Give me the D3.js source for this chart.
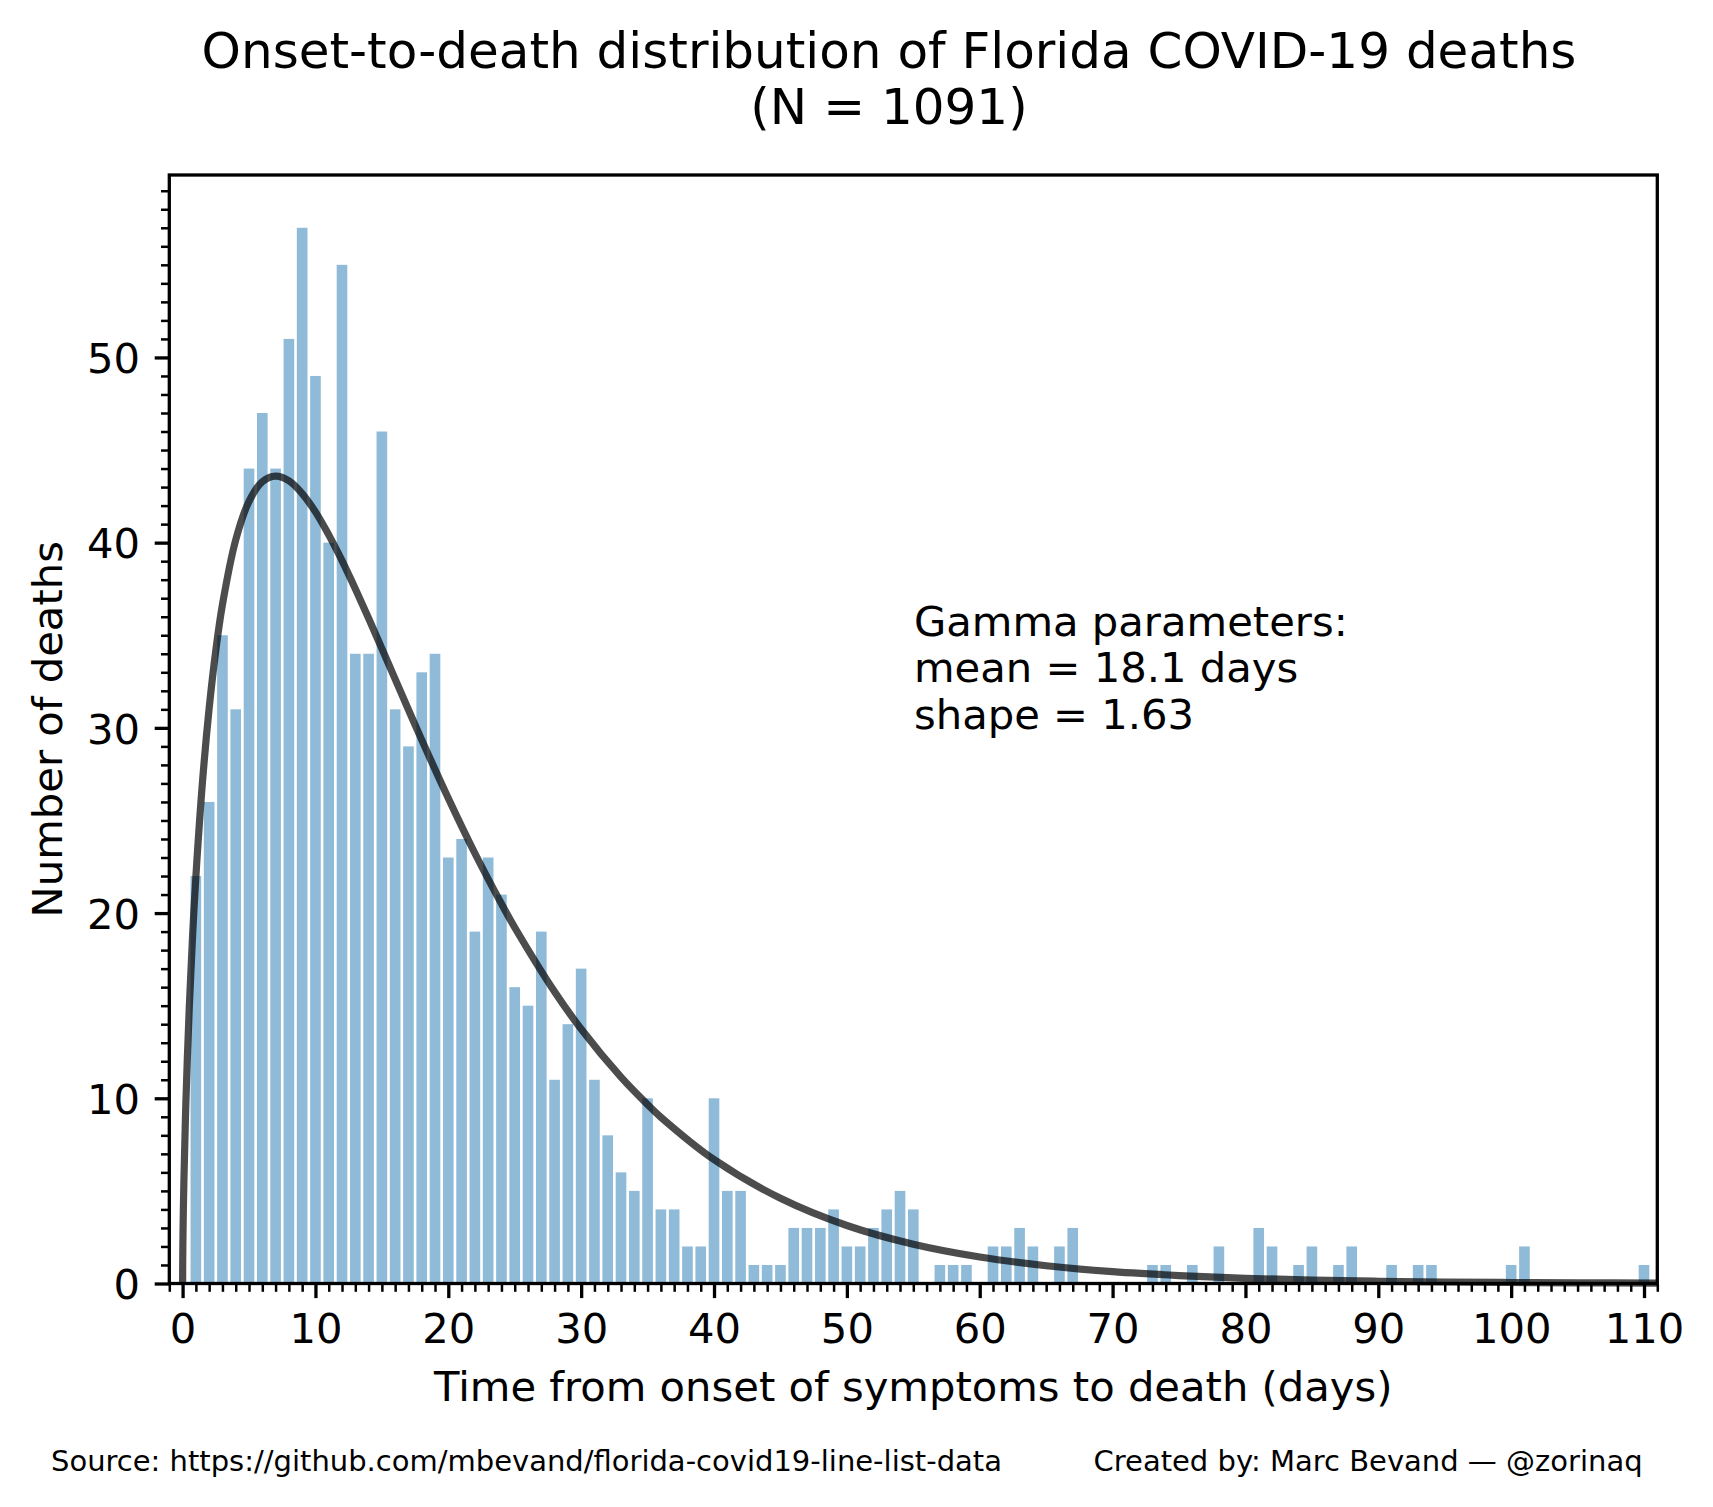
<!DOCTYPE html>
<html>
<head>
<meta charset="utf-8">
<script src="https://cdn.jsdelivr.net/npm/d3@7"></script>
<style>
  body { margin: 0; background: #ffffff; }
  svg { display: block; font-family: "DejaVu Sans", sans-serif; }
</style>
</head>
<body>
<svg id="chart" width="1713" height="1507"></svg>
<script>
// ---- Data ----
const days = d3.range(1, 111);
const deaths = [
  22, 26, 35, 31, 44, 47, 44, 51, 57, 49,
  40, 55, 34, 34, 46, 31, 29, 33, 34, 23,
  24, 19, 23, 21, 16, 15, 19, 11, 14, 17,
  11, 8, 6, 5, 10, 4, 4, 2, 2, 10,
  5, 5, 1, 1, 1, 3, 3, 3, 4, 2,
  2, 3, 4, 5, 4, 0, 1, 1, 1, 0,
  2, 2, 3, 2, 0, 2, 3, 0, 0, 0,
  0, 0, 1, 1, 0, 1, 0, 2, 0, 0,
  3, 2, 0, 1, 2, 0, 1, 2, 0, 0,
  1, 0, 1, 1, 0, 0, 0, 0, 0, 1,
  2, 0, 0, 0, 0, 0, 0, 0, 0, 1
];
// fitted gamma curve (expected deaths per day), sampled points
const curveDays = [0, 0.02, 0.05, 0.1, 0.25, 0.5, 0.75, 1, 1.5, 2, 2.5, 3, 4, 5, 6, 7, 8, 9, 10, 11, 12, 13, 14, 15, 16, 18, 20, 22, 24, 25, 28, 30, 33, 35, 36, 40, 45, 50, 55, 60, 65, 70, 75, 80, 85, 90, 95, 100, 105, 111];
const curveDeaths = [0, 2.04, 3.62, 5.58, 9.81, 14.85, 18.74, 21.96, 27.10, 31.06, 34.18, 36.65, 40.15, 42.23, 43.29, 43.59, 43.34, 42.65, 41.66, 40.42, 39.03, 37.51, 35.92, 34.28, 32.63, 29.35, 26.20, 23.23, 20.50, 19.22, 15.75, 13.74, 11.14, 9.66, 8.98, 6.69, 4.60, 3.13, 2.12, 1.43, 0.96, 0.64, 0.43, 0.28, 0.19, 0.12, 0.08, 0.054, 0.035, 0.021];
const xTickValues = [0, 10, 20, 30, 40, 50, 60, 70, 80, 90, 100, 110];
const yTickValues = [0, 10, 20, 30, 40, 50];
const titleLines = ["Onset-to-death distribution of Florida COVID-19 deaths", "(N = 1091)"];
const annotationLines = ["Gamma parameters:", "mean = 18.1 days", "shape = 1.63"];
const xLabel = "Time from onset of symptoms to death (days)";
const yLabel = "Number of deaths";
const sourceText = "Source: https://github.com/mbevand/florida-covid19-line-list-data";
const creditText = "Created by: Marc Bevand \u2014 @zorinaq";

// ---- Layout ----
const svg = d3.select("#chart");
const L = 169.3, R = 1657.3, T = 175, B = 1283.5;
const x = d3.scaleLinear().domain([-1, 111]).range([L, R]);
const y = d3.scaleLinear().domain([0, 59.85]).range([B, T]);

const tickFont = 41.7;
const barColor = "rgb(143,187,217)";

// Bars
const barData = days.map((d, i) => ({ day: d, value: deaths[i] })).filter(d => d.value > 0);
svg.append("g").selectAll("rect").data(barData).join("rect")
  .attr("x", d => x(d.day - 0.4))
  .attr("width", d => x(d.day + 0.4) - x(d.day - 0.4))
  .attr("y", d => y(d.value))
  .attr("height", d => y(0) - y(d.value))
  .attr("fill", barColor);

// Curve
const curvePts = curveDays.map((d, i) => [d, curveDeaths[i]]);
svg.append("path")
  .datum(curvePts)
  .attr("d", d3.line().x(d => x(d[0])).y(d => y(d[1])).curve(d3.curveCatmullRom.alpha(0.5)))
  .attr("fill", "none")
  .attr("stroke", "#000")
  .attr("stroke-opacity", 0.7)
  .attr("stroke-width", 7.2)
  .attr("stroke-linejoin", "round");

// Axes (using d3 axes for ticks)
const xMinor = d3.range(-1, 112).filter(v => v % 10 !== 0);
const yMinor = d3.range(0, 60).filter(v => v % 10 !== 0);

const xAxisMajor = svg.append("g").attr("transform", `translate(0,${B})`)
  .call(d3.axisBottom(x).tickValues(xTickValues).tickSize(14.6).tickPadding(14.6).tickFormat(d3.format("d")));
const xAxisMinor = svg.append("g").attr("transform", `translate(0,${B})`)
  .call(d3.axisBottom(x).tickValues(xMinor).tickSize(8.3).tickFormat(""));
const yAxisMajor = svg.append("g").attr("transform", `translate(${L},0)`)
  .call(d3.axisLeft(y).tickValues(yTickValues).tickSize(14.6).tickPadding(14.6).tickFormat(d3.format("d")));
const yAxisMinor = svg.append("g").attr("transform", `translate(${L},0)`)
  .call(d3.axisLeft(y).tickValues(yMinor).tickSize(8.3).tickFormat(""));

[xAxisMajor, xAxisMinor, yAxisMajor, yAxisMinor].forEach(g => {
  g.select(".domain").remove();
  g.selectAll("text").attr("font-family", "DejaVu Sans").attr("font-size", tickFont).attr("fill", "#000");
});
xAxisMajor.selectAll(".tick line").attr("stroke", "#000").attr("stroke-width", 3.3);
yAxisMajor.selectAll(".tick line").attr("stroke", "#000").attr("stroke-width", 3.3);
xAxisMinor.selectAll(".tick line").attr("stroke", "#000").attr("stroke-width", 2.5);
yAxisMinor.selectAll(".tick line").attr("stroke", "#000").attr("stroke-width", 2.5);
xAxisMajor.selectAll("text").attr("dy", null).attr("y", 14.6 + 14.6 + 30.4);
yAxisMajor.selectAll("text").attr("dy", null).attr("y", 15.2);

// Spines
svg.append("rect")
  .attr("x", L).attr("y", T).attr("width", R - L).attr("height", B - T)
  .attr("fill", "none").attr("stroke", "#000").attr("stroke-width", 3.3);

// Title
svg.append("g").selectAll("text").data(titleLines).join("text")
  .attr("x", 889).attr("y", (d, i) => 68 + i * 56)
  .attr("text-anchor", "middle").attr("font-size", 50).attr("fill", "#000")
  .text(d => d);

// Annotation
svg.append("g").selectAll("text").data(annotationLines).join("text")
  .attr("x", 914).attr("y", (d, i) => 636 + i * 46.3)
  .attr("font-size", 41.7).attr("fill", "#000")
  .text(d => d);

// Axis labels
svg.append("text").attr("x", (L + R) / 2).attr("y", 1401)
  .attr("text-anchor", "middle").attr("font-size", 41.7).attr("fill", "#000").text(xLabel);
svg.append("text").attr("transform", `translate(62,${(T + B) / 2}) rotate(-90)`)
  .attr("text-anchor", "middle").attr("font-size", 41.7).attr("fill", "#000").text(yLabel);

// Footer
svg.append("text").attr("x", 51).attr("y", 1471).attr("font-size", 29).attr("fill", "#000").text(sourceText);
svg.append("text").attr("x", 1093.5).attr("y", 1471).attr("font-size", 29).attr("fill", "#000").text(creditText);
</script>
</body>
</html>
